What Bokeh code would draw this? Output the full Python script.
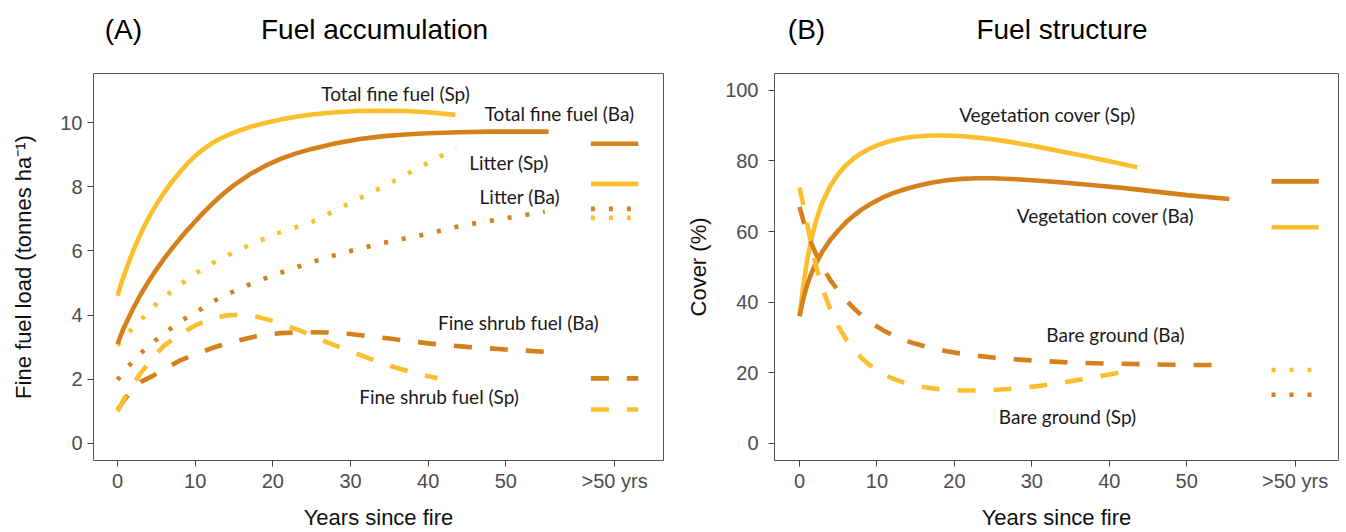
from bokeh.plotting import figure
from bokeh.layouts import row
from bokeh.models import FixedTicker, Range1d, Label, LinearAxis
from bokeh.embed import file_html
from bokeh.resources import INLINE

# ---------------- colours ----------------
BA = "#D4801B"   # Banksia (Ba)
SP = "#FBBF2E"   # Spinifex (Sp)

# ---------------- axis ticks ----------------
X_TICKS = [0, 10, 20, 30, 40, 50, 64]
X_OLD = 64                       # position of the ">50 yrs" category
X_OLD_LABEL = ">50 yrs"
Y_TICKS_A = [0, 2, 4, 6, 8, 10]
Y_TICKS_B = [0, 20, 40, 60, 80, 100]

# ---------------- Panel A: fuel accumulation (tonnes/ha) ----------------
total_sp_x = [0, 0.5, 1, 2, 3, 4, 5, 6, 7, 8, 9, 10, 11, 12, 13, 14, 15, 17, 19, 21, 23, 25, 28, 31, 34, 37, 40, 43.5]
total_sp_y = [4.6, 5.0, 5.35, 6.0, 6.55, 7.03, 7.45, 7.82, 8.15, 8.45, 8.72, 8.96, 9.16, 9.33, 9.47, 9.59, 9.69,
              9.86, 9.99, 10.1, 10.18, 10.25, 10.32, 10.36, 10.37, 10.36, 10.32, 10.24]

total_ba_x = [0, 0.5, 1, 2, 3, 4, 5, 6, 7, 8, 9, 10, 11, 12, 13, 14, 15, 17, 19, 21, 23, 25, 28, 31, 34, 37, 40, 44, 48, 52, 55.5]
total_ba_y = [3.1, 3.42, 3.7, 4.2, 4.65, 5.05, 5.42, 5.76, 6.07, 6.37, 6.65, 6.92, 7.18, 7.42, 7.65, 7.86, 8.05,
              8.38, 8.65, 8.87, 9.04, 9.18, 9.35, 9.48, 9.57, 9.63, 9.67, 9.7, 9.72, 9.72, 9.72]

litter_sp_x = [0, 1, 2, 3, 5, 7, 10, 13, 16, 20, 25, 30, 35, 40, 43.6]
litter_sp_y = [3.05, 3.35, 3.6, 3.85, 4.35, 4.75, 5.3, 5.72, 6.08, 6.5, 6.9, 7.5, 8.1, 8.75, 9.2]

litter_ba_x = [0, 1, 2, 4, 6, 8, 10.5, 13, 15.5, 18, 21, 24, 27, 30, 34, 37, 40, 43, 46, 49, 52, 55]
litter_ba_y = [1.98, 2.3, 2.56, 3.05, 3.42, 3.8, 4.15, 4.52, 4.8, 5.06, 5.32, 5.57, 5.8, 6.0, 6.24, 6.39, 6.54,
               6.72, 6.86, 6.98, 7.1, 7.22]

shrub_ba_x = [0, 1, 2, 3, 4.5, 6, 8, 10, 12.5, 15, 18, 21, 24, 27, 30, 35, 40, 45, 50, 55.5]
shrub_ba_y = [1.05, 1.4, 1.7, 1.92, 2.1, 2.32, 2.58, 2.78, 3.0, 3.18, 3.35, 3.44, 3.47, 3.46, 3.41, 3.27, 3.12,
              3.01, 2.93, 2.85]

shrub_sp_x = [0, 1, 2, 3, 4, 5, 6, 8, 10, 12, 14, 16, 18, 20, 22, 24, 27, 30, 33, 36, 39, 41.2]
shrub_sp_y = [1.0, 1.45, 1.85, 2.2, 2.5, 2.8, 3.05, 3.4, 3.68, 3.88, 3.99, 4.02, 3.95, 3.82, 3.65, 3.47, 3.15,
              2.87, 2.6, 2.35, 2.15, 2.03]

# values for sites > 50 years since fire
old_a_total_ba = 9.34
old_a_total_sp = 8.09
old_a_litter_ba = 7.31
old_a_litter_sp = 7.03
old_a_shrub_ba = 2.03
old_a_shrub_sp = 1.06

labels_a = ["Total fine fuel (Sp)", "Total fine fuel (Ba)", "Litter (Sp)",
            "Litter (Ba)", "Fine shrub fuel (Ba)", "Fine shrub fuel (Sp)"]

# ---------------- Panel B: fuel structure (cover %) ----------------
veg_sp_x = [0, 0.5, 1, 1.5, 2, 2.5, 3, 4, 5, 6, 7, 8, 9, 10, 11, 12, 13.5, 15, 17, 19, 21, 23, 25, 28, 31, 34, 37, 40, 43.6]
veg_sp_y = [36, 45, 52, 57.5, 62, 65.5, 68.5, 73, 76.3, 78.8, 80.7, 82.2, 83.4, 84.4, 85.2, 85.8, 86.5, 86.9,
            87.2, 87.2, 87.0, 86.6, 86.1, 85.1, 83.9, 82.6, 81.3, 79.9, 78.2]

veg_ba_x = [0, 0.5, 1, 1.5, 2, 3, 4, 5, 6, 7, 8, 9, 10, 11, 12, 13.5, 15, 17, 19, 21, 23, 25, 28, 31, 34, 38, 42, 46, 50, 55.5]
veg_ba_y = [36, 41, 45, 48, 50.5, 54.5, 57.7, 60.3, 62.6, 64.5, 66.2, 67.6, 68.8, 69.9, 70.8, 71.9, 72.8, 73.8,
            74.5, 74.9, 75.1, 75.1, 74.8, 74.4, 73.9, 73.1, 72.3, 71.3, 70.3, 69.2]

bare_ba_x = [0, 0.5, 1, 1.5, 2, 3, 4, 5, 6, 7, 8, 9, 10, 11, 12, 13.5, 15, 17, 19, 21, 23, 26, 30, 35, 40, 45, 50, 55.5]
bare_ba_y = [67, 63, 59.8, 56.8, 54.2, 49.8, 46.2, 43.2, 40.6, 38.3, 36.3, 34.6, 33.1, 31.8, 30.7, 29.3, 28.2,
             27.0, 26.1, 25.4, 24.8, 24.1, 23.5, 22.9, 22.6, 22.4, 22.2, 22.2]

bare_sp_x = [0, 0.5, 1, 1.5, 2, 2.5, 3, 4, 5, 6, 7, 8, 9, 10, 11, 12, 13.5, 15, 17, 19, 21, 23, 25, 27, 29, 31,
             33, 35, 37, 39, 42]
bare_sp_y = [72.5, 67.5, 62, 56.5, 51.5, 47.3, 43.7, 37.8, 33.2, 29.5, 26.6, 24.2, 22.3, 20.7, 19.5, 18.4, 17.2,
             16.3, 15.6, 15.2, 15.0, 15.0, 15.1, 15.4, 15.8, 16.3, 16.9, 17.6, 18.3, 19.1, 20.4]

old_b_veg_ba = 74.2
old_b_veg_sp = 61.2
old_b_bare_sp = 20.8
old_b_bare_ba = 13.8

labels_b = ["Vegetation cover (Sp)", "Vegetation cover (Ba)",
            "Bare ground (Ba)", "Bare ground (Sp)"]

# ---------------- styles ----------------
LW = 4.6
DOT = "4 14"
DASH = "18 18"
KEY_HALF = 3.05
TICK_FONT = "Liberation Sans"
NOTE_FONT = "Lato"
FIG_H = 532
BORDER_TOP = 73
FRAME_H = 391


def make_fig(width, border_left, frame_w, x_range, y_range, yticks, ylabel,
             ylabel_standoff, ytick_standoff):
    p = figure(width=width, height=FIG_H, output_backend="svg", toolbar_location=None,
               x_range=Range1d(*x_range), y_range=Range1d(*y_range),
               min_border_left=border_left, min_border_right=width - border_left - frame_w,
               min_border_top=BORDER_TOP, min_border_bottom=FIG_H - BORDER_TOP - FRAME_H)
    p.background_fill_color = "white"
    p.border_fill_color = "white"
    p.grid.visible = False
    p.outline_line_color = "#555555"
    p.outline_line_width = 1
    for ax in (p.xaxis[0], p.yaxis[0]):
        ax.axis_line_color = None
        ax.major_tick_line_color = "#444444"
        ax.major_tick_out = 6
        ax.major_tick_in = 0
        ax.minor_tick_line_color = None
        ax.major_label_text_font = TICK_FONT
        ax.major_label_text_font_size = "20px"
        ax.major_label_text_color = "#4d4d4d"
        ax.axis_label_text_font = TICK_FONT
        ax.axis_label_text_font_size = "22px"
        ax.axis_label_text_font_style = "normal"
        ax.axis_label_text_color = "#111111"
    p.xaxis.ticker = FixedTicker(ticks=X_TICKS)
    p.xaxis.major_label_overrides = {X_OLD: X_OLD_LABEL}
    p.xaxis.major_label_standoff = 3
    p.xaxis.axis_label = "Years since fire"
    p.xaxis.axis_label_standoff = 10
    p.yaxis.ticker = FixedTicker(ticks=yticks)
    p.yaxis.major_label_standoff = ytick_standoff
    p.yaxis.axis_label = ylabel
    p.yaxis.axis_label_standoff = ylabel_standoff
    return p


def add_titles(p, tick_pos, texts):
    ax = LinearAxis(ticker=FixedTicker(ticks=tick_pos),
                    major_label_overrides=dict(zip(tick_pos, texts)))
    ax.axis_line_color = None
    ax.major_tick_line_color = None
    ax.minor_tick_line_color = None
    ax.major_tick_out = 0
    ax.major_label_standoff = 29
    ax.major_label_text_font = TICK_FONT
    ax.major_label_text_font_size = "28px"
    ax.major_label_text_color = "#000000"
    p.add_layout(ax, "above")


def curve(p, xs, ys, color, dash=None):
    kw = dict(line_color=color, line_width=LW, line_cap="butt", line_join="round")
    if dash:
        kw["line_dash"] = dash
    p.line(xs, ys, **kw)


def key(p, yv, color, dash=None):
    kw = dict(line_color=color, line_width=LW, line_cap="butt")
    if dash:
        kw["line_dash"] = dash
    p.segment(x0=[X_OLD - KEY_HALF], x1=[X_OLD + KEY_HALF], y0=[yv], y1=[yv], **kw)


def note(p, x, y, t, size="19px", font=NOTE_FONT, color="#1a1a1a"):
    p.add_layout(Label(x=x, y=y, text=t, text_font=font, text_font_size=size,
                       text_color=color, text_align="center", text_baseline="middle"))


# ---------------- Panel A ----------------
pA = make_fig(680, 93, 570, (-3.09, 70.3), (-0.53, 11.53), Y_TICKS_A,
              "Fine fuel load (tonnes ha\u207b\u00b9)", 21, 5)
curve(pA, litter_sp_x, litter_sp_y, SP, DOT)
curve(pA, litter_ba_x, litter_ba_y, BA, DOT)
curve(pA, shrub_ba_x, shrub_ba_y, BA, DASH)
curve(pA, shrub_sp_x, shrub_sp_y, SP, DASH)
curve(pA, total_sp_x, total_sp_y, SP)
curve(pA, total_ba_x, total_ba_y, BA)
key(pA, old_a_total_ba, BA)
key(pA, old_a_total_sp, SP)
key(pA, old_a_litter_ba, BA, DOT)
key(pA, old_a_litter_sp, SP, DOT)
key(pA, old_a_shrub_ba, BA, DASH)
key(pA, old_a_shrub_sp, SP, DASH)
pos_a = [(35.8, 10.91), (56.9, 10.29), (50.4, 8.76), (51.8, 7.69), (51.6, 3.78), (41.4, 1.47)]
for (lx, ly), t in zip(pos_a, labels_a):
    note(pA, lx, ly, t)
add_titles(pA, [0.75, 33.1], ["(A)", "Fuel accumulation"])

# ---------------- Panel B ----------------
pB = make_fig(666, 94, 564, (-3.23, 69.6), (-4.84, 104.75), Y_TICKS_B, "Cover (%)", 11, 10)
curve(pB, veg_sp_x, veg_sp_y, SP)
curve(pB, veg_ba_x, veg_ba_y, BA)
curve(pB, bare_ba_x, bare_ba_y, BA, DASH)
curve(pB, bare_sp_x, bare_sp_y, SP, DASH)
key(pB, old_b_veg_ba, BA)
key(pB, old_b_veg_sp, SP)
key(pB, old_b_bare_sp, SP, DOT)
key(pB, old_b_bare_ba, BA, DOT)
pos_b = [(32.0, 93.0), (39.5, 64.4), (40.8, 30.9), (34.6, 7.7)]
for (lx, ly), t in zip(pos_b, labels_b):
    note(pB, lx, ly, t)
add_titles(pB, [0.9, 33.9], ["(B)", "Fuel structure"])

layout = row(pA, pB)
open("out.html", "w").write(file_html(layout, INLINE))
